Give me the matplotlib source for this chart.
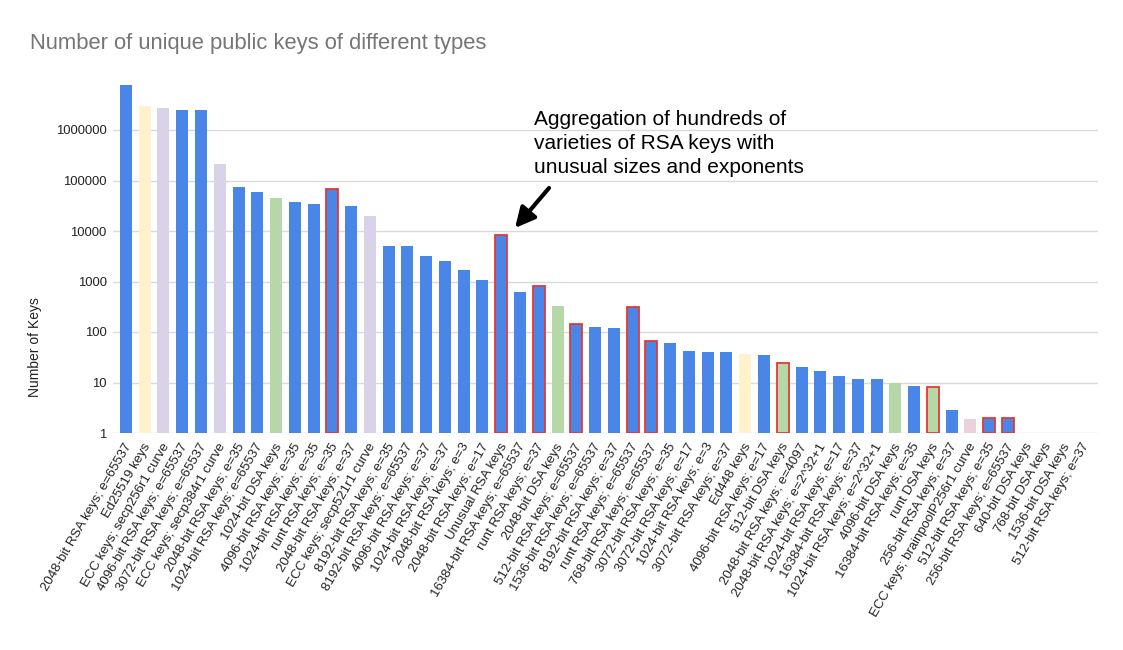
import matplotlib
matplotlib.use("Agg")
import matplotlib.pyplot as plt
import matplotlib.transforms as mtransforms
import numpy as np

plt.rcParams['font.family'] = ['Liberation Sans', 'DejaVu Sans']

categories = [
    "2048-bit RSA keys; e=65537", "Ed25519 keys", "ECC keys; secp256r1 curve",
    "4096-bit RSA keys; e=65537", "3072-bit RSA keys; e=65537", "ECC keys; secp384r1 curve",
    "2048-bit RSA keys; e=35", "1024-bit RSA keys; e=65537", "1024-bit DSA keys",
    "4096-bit RSA keys; e=35", "1024-bit RSA keys; e=35", "runt RSA keys; e=35",
    "2048-bit RSA keys; e=37", "ECC keys; secp521r1 curve", "8192-bit RSA keys; e=35",
    "8192-bit RSA keys; e=65537", "4096-bit RSA keys; e=37", "1024-bit RSA keys; e=37",
    "2048-bit RSA keys; e=3", "2048-bit RSA keys; e=17", "Unusual RSA keys",
    "16384-bit RSA keys; e=65537", "runt RSA keys; e=37", "2048-bit DSA keys",
    "512-bit RSA keys; e=65537", "1536-bit RSA keys; e=65537", "8192-bit RSA keys; e=37",
    "runt RSA keys; e=65537", "768-bit RSA keys; e=65537", "3072-bit RSA keys; e=35",
    "3072-bit RSA keys; e=17", "1024-bit RSA keys; e=3", "3072-bit RSA keys; e=37",
    "Ed448 keys", "4096-bit RSA keys; e=17", "512-bit DSA keys",
    "2048-bit RSA keys; e=4097", "2048-bit RSA keys; e=2^32+1", "1024-bit RSA keys; e=17",
    "16384-bit RSA keys; e=37", "1024-bit RSA keys; e=2^32+1", "4096-bit DSA keys",
    "16384-bit RSA keys; e=35", "runt DSA keys", "256-bit RSA keys; e=37",
    "ECC keys; brainpoolP256r1 curve", "512-bit RSA keys; e=35", "256-bit RSA keys; e=65537",
    "640-bit DSA keys", "768-bit DSA keys", "1536-bit DSA keys", "512-bit RSA keys; e=37",
]

values = [
    7800000, 2980000, 2700000, 2450000, 2450000, 215000,
    75000, 59000, 45600, 37500, 34700, 68000,
    30900, 19500, 5100, 5100, 3240, 2500,
    1700, 1070, 8300, 620, 814, 330,
    142, 123, 118, 315, 66, 60,
    43, 41, 41, 36.5, 35, 24.6,
    20, 17, 13.6, 11.7, 11.7, 9.6,
    8.6, 8, 2.85, 1.9, 2, 2,
    1, 1, 1, 1,
]

# key type groups -> fill colour
groups = [
    "rsa", "ed", "ecc", "rsa", "rsa", "ecc",
    "rsa", "rsa", "dsa", "rsa", "rsa", "rsa",
    "rsa", "ecc", "rsa", "rsa", "rsa", "rsa",
    "rsa", "rsa", "rsa", "rsa", "rsa", "dsa",
    "rsa", "rsa", "rsa", "rsa", "rsa", "rsa",
    "rsa", "rsa", "rsa", "ed", "rsa", "dsa",
    "rsa", "rsa", "rsa", "rsa", "rsa", "dsa",
    "rsa", "dsa", "rsa", "ecc2", "rsa", "rsa",
    "dsa", "dsa", "dsa", "rsa",
]

# highlighted (weak / unusual) categories with red outline
highlighted = [
    "runt RSA keys; e=35", "Unusual RSA keys", "runt RSA keys; e=37",
    "512-bit RSA keys; e=65537", "runt RSA keys; e=65537", "768-bit RSA keys; e=65537",
    "512-bit DSA keys", "runt DSA keys", "512-bit RSA keys; e=35", "256-bit RSA keys; e=65537",
]

color_map = {"rsa": "#4a86e8", "ed": "#fff2cc", "ecc": "#d9d2e9",
             "dsa": "#b6d7a8", "ecc2": "#ead1dc"}

W, H = 1123, 650
fig = plt.figure(figsize=(W / 100, H / 100), dpi=100)
ax = fig.add_axes([113 / W, 1 - 433 / H, (1098 - 113) / W, (433 - 79.5) / H])

x = np.arange(len(categories))
vals = np.array(values, dtype=float)
colors = [color_map[g] for g in groups]
edges = ["#e53935" if c in highlighted else "none" for c in categories]
lws = [1.3 if c in highlighted else 0 for c in categories]

ax.bar(x, vals - 1, bottom=1, width=0.64, color=colors, edgecolor=edges,
       linewidth=lws, zorder=3)

ax.set_yscale('log')
ax.set_ylim(1, 1e7)
ax.set_xlim(-0.69, 51.8)
yt = [1, 10, 100, 1000, 10000, 100000, 1000000]
ax.set_yticks(yt)
ax.set_yticklabels([str(v) for v in yt])
ax.yaxis.set_minor_locator(matplotlib.ticker.NullLocator())
ax.grid(axis='y', color='#dadada', linewidth=1, zorder=0)
for s in ax.spines.values():
    s.set_visible(False)
ax.tick_params(axis='y', length=0, pad=4.5, labelsize=9.4, labelcolor='#222222')
ax.tick_params(axis='x', length=0, pad=8, labelsize=9.5, labelcolor='#222222')
ax.set_xticks(x)
ax.set_xticklabels(categories, rotation=60, ha='right', va='center',
                   rotation_mode='anchor')
offset = mtransforms.ScaledTranslation(3 / 100, 0, fig.dpi_scale_trans)
for lab in ax.get_xticklabels():
    lab.set_transform(lab.get_transform() + offset)

fig.text(30 / W, 1 - 43 / H, "Number of unique public keys of different types",
         fontsize=15.8, color='#757575', ha='left', va='center')
fig.text(35 / W, 1 - 347 / H, "Number of Keys", rotation=90, fontsize=10,
         color='#222222', ha='center', va='center')

fig.text(534 / W, 1 - 110 / H,
         "Aggregation of hundreds of\nvarieties of RSA keys with\nunusual sizes and exponents",
         fontsize=15, color='black', ha='left', va='top', linespacing=1.32)
ax.annotate("", xy=(515, H - 228), xycoords='figure pixels',
            xytext=(549, H - 188), textcoords='figure pixels',
            arrowprops=dict(arrowstyle='-|>,head_length=1.2,head_width=0.6',
                            color='black', lw=3, shrinkA=0, shrinkB=0))

fig.savefig("out.png", dpi=100)
